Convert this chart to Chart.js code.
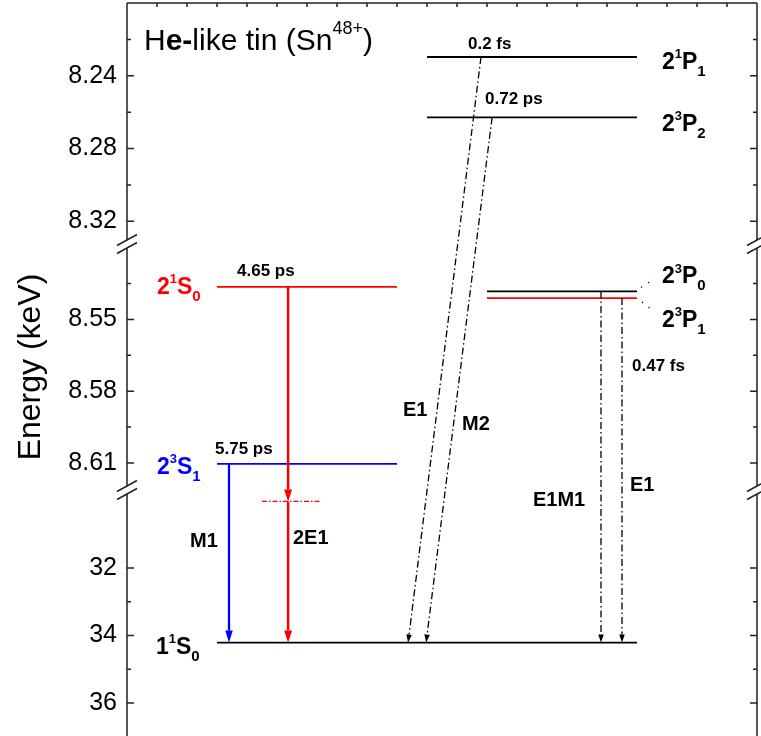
<!DOCTYPE html>
<html>
<head>
<meta charset="utf-8">
<script src="https://cdn.jsdelivr.net/npm/chart.js@4"></script>
<style>
  html, body { margin: 0; padding: 0; background: #fff; }
  #wrap { width: 761px; height: 736px; }
</style>
</head>
<body>
<div id="wrap"><canvas id="chart"></canvas></div>
<script>
// y axis is broken in three pieces (keV)
const topTicks = [8.24, 8.28, 8.32];
const topMinor = [8.22, 8.26, 8.30];
const midTicks = [8.55, 8.58, 8.61];
const midMinor = [8.535, 8.565, 8.595];
const lowTicks = [32, 34, 36];
const lowMinor = [33, 35];

// energy levels
const levelNames  = ['2^1P_1', '2^3P_2', '2^1S_0', '2^3P_0', '2^3P_1', '2^3S_1', '1^1S_0'];
const levelEnergy = [8.2297, 8.2629, 8.5364, 8.5383, 8.5411, 8.6104, 34.21];
const levelAxis   = ['yTop', 'yTop', 'yMid', 'yMid', 'yMid', 'yMid', 'yLow'];
const levelFrom   = [10, 10, 3, 12, 12, 3, 3];
const levelTo     = [17, 17, 9, 17, 17, 9, 17];

// virtual level of the two-photon decay
const virtualEnergy = 30.03;
const virtualFrom = 4.5;
const virtualTo = 6.43;

// decays: label, upper level, x at top, x at bottom (all go to 1^1S_0)
const transLabels = ['M1', '2E1', 'E1', 'M2', 'E1M1', 'E1'];
const transFrom   = ['2^3S_1', '2^1S_0', '2^1P_1', '2^3P_2', '2^3P_0', '2^3P_1'];
const transXTop   = [3.4, 5.37, 11.8, 12.17, 15.8, 16.5];
const transXBot   = [3.4, 5.37, 9.37, 9.97, 15.8, 16.5];

const lifetimes   = ['0.2 fs', '0.72 ps', '4.65 ps', '5.75 ps', '0.47 fs'];

const FONT = '"Liberation Sans", Arial, sans-serif';
const RED = '#ff0000', BLUE = '#0000ff', BLACK = '#000000';
const levelColor = [BLACK, BLACK, RED, BLACK, RED, BLUE, BLACK];
const labelColor = [BLACK, BLACK, RED, BLACK, BLACK, BLUE, BLACK];

// little parser for 2^1S_0 style strings, * toggles bold
function parseRich(s, bold) {
  const out = [];
  let i = 0;
  while (i < s.length) {
    const c = s[i];
    if (c === '*') { bold = !bold; i++; continue; }
    if (c === '^' || c === '_') {
      let t;
      if (s[i + 1] === '{') { const j = s.indexOf('}', i); t = s.slice(i + 2, j); i = j + 1; }
      else { t = s[i + 1]; i += 2; }
      out.push({ t, mode: c === '^' ? 'sup' : 'sub', bold });
      continue;
    }
    let j = i;
    while (j < s.length && !'*^_'.includes(s[j])) j++;
    out.push({ t: s.slice(i, j), mode: 'n', bold });
    i = j;
  }
  return out;
}

function drawRich(ctx, s, x, base, o) {
  ctx.save();
  ctx.fillStyle = o.color || BLACK;
  ctx.textAlign = 'left';
  ctx.textBaseline = 'alphabetic';
  for (const p of parseRich(s, !!o.bold)) {
    let size = o.size, y = base;
    if (p.mode === 'sup') { size = o.supSize; y = base - o.supRise; }
    if (p.mode === 'sub') { size = o.subSize; y = base + o.subDrop; }
    ctx.font = (p.bold ? 'bold ' : '') + size + 'px ' + FONT;
    ctx.fillText(p.t, x, y);
    x += ctx.measureText(p.t).width;
  }
  ctx.restore();
}

function arrow(ctx, x1, y1, x2, y2, color, width, dash, hl, hw) {
  const ang = Math.atan2(y2 - y1, x2 - x1);
  const bx = x2 - hl * Math.cos(ang), by = y2 - hl * Math.sin(ang);
  ctx.save();
  ctx.strokeStyle = color;
  ctx.fillStyle = color;
  ctx.lineWidth = width;
  ctx.setLineDash(dash);
  ctx.beginPath();
  ctx.moveTo(x1, y1);
  ctx.lineTo(bx, by);
  ctx.stroke();
  ctx.setLineDash([]);
  ctx.beginPath();
  ctx.moveTo(x2, y2);
  ctx.lineTo(bx + hw / 2 * Math.sin(ang), by - hw / 2 * Math.cos(ang));
  ctx.lineTo(bx - hw / 2 * Math.sin(ang), by + hw / 2 * Math.cos(ang));
  ctx.closePath();
  ctx.fill();
  ctx.restore();
}

const diagram = {
  id: 'diagram',
  afterDatasetsDraw(chart) {
    const { ctx, chartArea: a, scales } = chart;
    const xs = scales.x;
    const lvY = name => {
      const i = levelNames.indexOf(name);
      return scales[levelAxis[i]].getPixelForValue(levelEnergy[i]);
    };
    const groundY = lvY('1^1S_0');

    // frame with breaks
    const cuts = [scales.yTop.bottom, scales.yMid.bottom];
    const gap = 4;
    ctx.save();
    ctx.strokeStyle = '#222';
    ctx.lineWidth = 1.5;
    ctx.beginPath();
    ctx.moveTo(a.left, a.top);
    ctx.lineTo(a.right, a.top);
    for (const ax of [a.left, a.right]) {
      let y0 = a.top;
      for (const c of cuts) {
        ctx.moveTo(ax, y0);
        ctx.lineTo(ax, c - gap);
        y0 = c + gap;
      }
      ctx.moveTo(ax, y0);
      ctx.lineTo(ax, a.bottom);
    }
    ctx.stroke();
    // break slashes
    ctx.beginPath();
    for (const ax of [a.left, a.right]) {
      for (const c of cuts) {
        for (const d of [-gap, gap]) {
          ctx.moveTo(ax - 10, c + d + 5.5);
          ctx.lineTo(ax + 10, c + d - 5.5);
        }
      }
    }
    ctx.stroke();
    // inward ticks
    ctx.beginPath();
    const tickSets = [['yTop', topTicks, topMinor], ['yMid', midTicks, midMinor], ['yLow', lowTicks, lowMinor]];
    for (const [id, maj, min] of tickSets) {
      const s = scales[id];
      for (const [vals, len] of [[maj, 7], [min, 4]]) {
        for (const v of vals) {
          const y = s.getPixelForValue(v);
          ctx.moveTo(a.left, y); ctx.lineTo(a.left + len, y);
          ctx.moveTo(a.right, y); ctx.lineTo(a.right - len, y);
        }
      }
    }
    for (let i = 1; i < 21; i++) {
      const x = xs.getPixelForValue(i);
      ctx.moveTo(x, a.top); ctx.lineTo(x, a.top + 4);
    }
    ctx.stroke();
    ctx.restore();

    // decays
    const dashDot = [7, 3, 1.5, 3];
    transLabels.forEach((lab, i) => {
      const x1 = xs.getPixelForValue(transXTop[i]);
      const x2 = xs.getPixelForValue(transXBot[i]);
      const y1 = lvY(transFrom[i]);
      if (i === 0) {
        arrow(ctx, x1, y1, x2, groundY, BLUE, 2.3, [], 12, 7.5);
      } else if (i === 1) {
        const yv = scales.yLow.getPixelForValue(virtualEnergy);
        arrow(ctx, x1, y1, x1, yv, RED, 2.5, [], 12, 8);
        arrow(ctx, x1, yv, x2, groundY, RED, 2.5, [], 12, 8);
      } else {
        arrow(ctx, x1, y1, x2, groundY, BLACK, 1.3, dashDot, 8, 5.5);
      }
    });

    // texts
    const boldTxt = (t, x, cy, size) => {
      ctx.save();
      ctx.font = 'bold ' + size + 'px ' + FONT;
      ctx.fillStyle = BLACK;
      ctx.textBaseline = 'middle';
      ctx.fillText(t, x, cy);
      ctx.restore();
    };
    const lifePos = [[468, 44], [485, 99], [237, 271], [215, 449], [632, 366]];
    lifetimes.forEach((t, i) => boldTxt(t, lifePos[i][0], lifePos[i][1], 17));
    const transPos = [[190, 541], [293, 538], [403, 410], [462, 424], [533, 500], [630, 485]];
    transLabels.forEach((t, i) => boldTxt(t, transPos[i][0], transPos[i][1], 20));

    const lvOpts = { size: 23, bold: true, supSize: 13, supRise: 10.5, subSize: 15, subDrop: 7 };
    const lvPos = [[662, 60.5], [662, 122.5], [157, 285.5], [662, 275], [662, 318.5], [157, 465.5], [156, 645.5]];
    levelNames.forEach((n, i) => {
      drawRich(ctx, n, lvPos[i][0], lvPos[i][1] + 8, Object.assign({ color: labelColor[i] }, lvOpts));
    });

    // dotted leaders to 2^3P_0 / 2^3P_1
    ctx.save();
    ctx.strokeStyle = BLACK;
    ctx.lineWidth = 1.3;
    ctx.setLineDash([1.3, 7]);
    const xe = xs.getPixelForValue(levelTo[3]);
    ctx.beginPath();
    ctx.moveTo(xe + 4, lvY('2^3P_0') - 4); ctx.lineTo(xe + 18, lvY('2^3P_0') - 13);
    ctx.moveTo(xe + 5, lvY('2^3P_1') + 4); ctx.lineTo(xe + 18, lvY('2^3P_1') + 14);
    ctx.stroke();
    ctx.restore();

    drawRich(ctx, 'H*e-*like tin (Sn^{48+})', 144, 50,
      { size: 30, supSize: 18, supRise: 16, subSize: 18, subDrop: 6 });
  }
};

const datasets = levelNames.map((n, i) => ({
  label: n,
  yAxisID: levelAxis[i],
  data: [{ x: levelFrom[i], y: levelEnergy[i] }, { x: levelTo[i], y: levelEnergy[i] }],
  borderColor: levelColor[i],
  borderWidth: 1.8,
  pointRadius: 0
}));
datasets.push({
  label: 'virtual',
  yAxisID: 'yLow',
  data: [{ x: virtualFrom, y: virtualEnergy }, { x: virtualTo, y: virtualEnergy }],
  borderColor: RED,
  borderWidth: 1.3,
  borderDash: [5, 2, 1.5, 2],
  pointRadius: 0
});

function yAxis(min, max, ticks, weight, order, digits, extra) {
  return Object.assign({
    type: 'linear',
    position: 'left',
    stack: 'energy',
    stackWeight: weight,
    weight: order,
    reverse: true,
    min: min,
    max: max,
    afterFit: s => { s.width = 127; s.paddingTop = 0; s.paddingBottom = 0; },
    afterBuildTicks: s => { s.ticks = ticks.map(v => ({ value: v })); },
    grid: { display: false, drawTicks: false },
    border: { display: false },
    ticks: {
      autoSkip: false,
      padding: 10,
      color: BLACK,
      font: { family: FONT, size: 25 },
      callback: v => v.toFixed(digits)
    }
  }, extra || {});
}

new Chart(document.getElementById('chart'), {
  type: 'line',
  data: { datasets },
  plugins: [diagram],
  options: {
    responsive: true,
    maintainAspectRatio: false,
    animation: false,
    layout: { padding: { top: 3, right: 4, bottom: 0, left: 0 } },
    plugins: { legend: { display: false }, tooltip: { enabled: false } },
    scales: {
      x: { type: 'linear', min: 0, max: 21, display: false },
      yTop: yAxis(8.20, 8.3325, topTicks, 241, 3, 2),
      yMid: yAxis(8.5185, 8.6213, midTicks, 246, 2, 2, {
        title: {
          display: true, text: 'Energy (keV)', color: BLACK,
          font: { family: FONT, size: 32 }, padding: { top: 12, bottom: 0 }
        }
      }),
      yLow: yAxis(29.69, 36.98, lowTicks, 246, 1, 0)
    }
  }
});
</script>
</body>
</html>
